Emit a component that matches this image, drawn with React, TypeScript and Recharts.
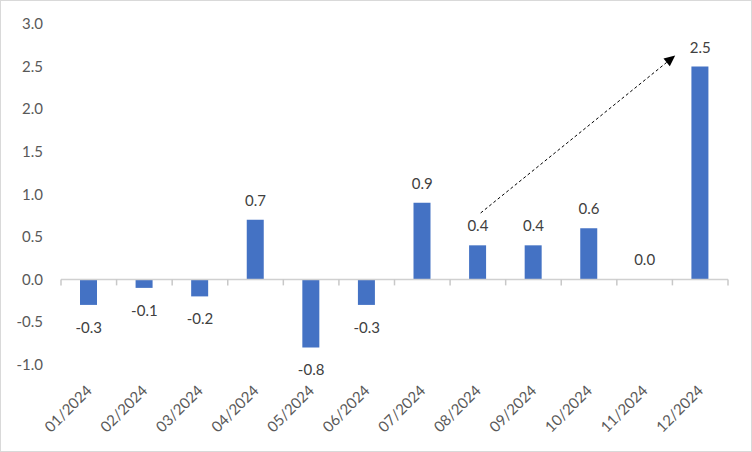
import React from 'react';
import { ComposedChart, Bar, Line, XAxis, YAxis, ReferenceLine, LabelList } from 'recharts';

const months = [
  '01/2024', '02/2024', '03/2024', '04/2024', '05/2024', '06/2024',
  '07/2024', '08/2024', '09/2024', '10/2024', '11/2024', '12/2024',
];
const values = [-0.3, -0.1, -0.2, 0.7, -0.8, -0.3, 0.9, 0.4, 0.4, 0.6, 0.0, 2.5];
const yTicks = [-1, -0.5, 0, 0.5, 1, 1.5, 2, 2.5, 3];
// dashed trend arrow, in data units (x = month index)
const arrowFrom = { x: 7.05, y: 0.78 };
const arrowTo = { x: 10.55, y: 2.63 };

const data = months.map((month, idx) => ({ idx, month, value: values[idx] }));
const xTicks = months.map((_, i) => i);

const FONT = 'Lato, "Noto Sans", sans-serif';
const AXIS_GRAY = '#c8c8c8';

const MonthTick = ({ x, y, payload }: any) => (
  <g transform={`translate(${x + 4},${y + 27})`}>
    <text
      transform="rotate(-45)"
      textAnchor="end"
      fontSize={15}
      fontFamily={FONT}
      fill="#595959"
    >
      {months[payload.value]}
    </text>
  </g>
);

// labels ride on an invisible line, so y is the value's own position
const ValueLabel = ({ x, y, value }: any) => {
  const ty = value < 0 ? y + 28 : y - 14;
  return (
    <text
      x={x}
      y={ty}
      textAnchor="middle"
      fontSize={15}
      fontFamily={FONT}
      fill="#404040"
    >
      {Number(value).toFixed(1)}
    </text>
  );
};

// zero line with short ticks hanging at each category boundary
const ZeroAxis = ({ x1, x2, y1 }: any) => {
  const left = Math.min(x1, x2);
  const step = Math.abs(x2 - x1) / months.length;
  return (
    <g>
      <line x1={x1} y1={y1} x2={x2} y2={y1} stroke="#d0d0d0" strokeWidth={1.5} />
      {[...months, ''].map((_, i) => (
        <path
          key={i}
          d={`M${left + i * step},${y1} v6`}
          stroke={AXIS_GRAY}
          strokeWidth={1.5}
          fill="none"
        />
      ))}
    </g>
  );
};

const Arrow = ({ x1, y1, x2, y2 }: any) => {
  const ang = Math.atan2(y2 - y1, x2 - x1);
  const len = 11;
  const half = 5;
  const bx = x2 - len * Math.cos(ang);
  const by = y2 - len * Math.sin(ang);
  const px = -Math.sin(ang) * half;
  const py = Math.cos(ang) * half;
  return (
    <g>
      <line x1={x1} y1={y1} x2={bx} y2={by} stroke="#000" strokeWidth={1} strokeDasharray="3 2.5" />
      <polygon points={`${x2},${y2} ${bx + px},${by + py} ${bx - px},${by - py}`} fill="#000" />
    </g>
  );
};

export default function App() {
  return (
    <div style={{ position: 'absolute', left: 0, top: 0, width: 752, height: 452, background: '#fff' }}>
      <ComposedChart
        width={752}
        height={452}
        data={data}
        margin={{ top: 24, right: 24, left: 0, bottom: 0 }}
      >
        <XAxis
          dataKey="idx"
          type="number"
          domain={[-0.5, 11.5]}
          ticks={xTicks}
          interval={0}
          axisLine={false}
          tickLine={false}
          tickSize={0}
          tickMargin={0}
          height={87.5}
          tick={<MonthTick />}
        />
        <YAxis
          domain={[-1, 3]}
          ticks={yTicks}
          axisLine={false}
          tickLine={false}
          tickSize={0}
          tickMargin={18}
          width={61}
          tickFormatter={(v: number) => v.toFixed(1)}
          tick={{ fontSize: 15, fontFamily: FONT, fill: '#595959' }}
        />
        <ReferenceLine y={0} ifOverflow="visible" shape={ZeroAxis} />
        <Bar dataKey="value" fill="#4472C4" barSize={17} isAnimationActive={false} />
        <Line
          dataKey="value"
          stroke="none"
          dot={false}
          activeDot={false}
          legendType="none"
          isAnimationActive={false}
        >
          <LabelList dataKey="value" content={ValueLabel} />
        </Line>
        <ReferenceLine segment={[arrowFrom, arrowTo]} ifOverflow="visible" shape={Arrow} />
      </ComposedChart>
      <div
        style={{
          position: 'absolute',
          inset: 0,
          border: '1.5px solid #d9d9d9',
          pointerEvents: 'none',
        }}
      />
    </div>
  );
}
